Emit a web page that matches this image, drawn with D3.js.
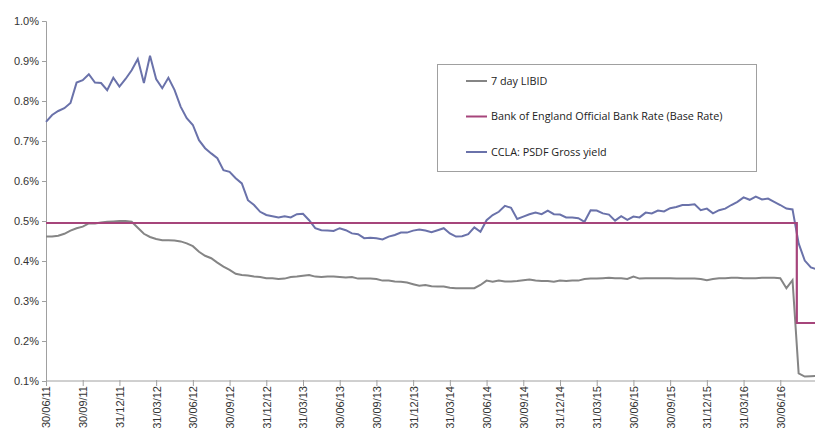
<!DOCTYPE html>
<html>
<head>
<meta charset="utf-8">
<script src="https://cdn.jsdelivr.net/npm/d3@7"></script>
<style>
  body { margin: 0; background: #fff; }
  .tick text { font-family: "Liberation Sans", Arial, sans-serif; font-size: 11px; fill: #333; }
  .legend text { font-family: "Open Sans", "Liberation Sans", sans-serif; font-size: 10.8px; fill: #222; }
</style>
</head>
<body>
<div id="chart"></div>
<script>
var width = 815, height = 428;

// half-monthly readings, starting 30/06/11 (index i = i/2 months later)
var psdf = [0.748,0.765,0.775,0.782,0.795,0.846,0.852,0.867,0.846,0.845,
  0.827,0.858,0.836,0.855,0.877,0.905,0.845,0.913,0.855,0.832,
  0.858,0.828,0.786,0.757,0.740,0.702,0.682,0.669,0.657,0.627,
  0.623,0.607,0.594,0.552,0.540,0.523,0.515,0.512,0.509,0.512,
  0.509,0.517,0.518,0.502,0.482,0.477,0.476,0.475,0.482,0.477,
  0.469,0.467,0.457,0.458,0.457,0.454,0.461,0.465,0.471,0.471,
  0.476,0.479,0.476,0.472,0.477,0.482,0.469,0.461,0.462,0.467,
  0.484,0.473,0.502,0.515,0.523,0.538,0.533,0.505,0.511,0.517,
  0.521,0.517,0.526,0.517,0.516,0.509,0.509,0.507,0.498,0.527,
  0.526,0.519,0.516,0.501,0.512,0.503,0.511,0.509,0.521,0.519,
  0.526,0.524,0.532,0.535,0.540,0.540,0.542,0.527,0.531,0.519,
  0.527,0.531,0.540,0.548,0.559,0.553,0.561,0.554,0.556,0.548,
  0.540,0.531,0.529,0.444,0.401,0.384,0.379];

var libid = [0.461,0.461,0.463,0.468,0.476,0.482,0.486,0.494,0.494,0.496,
  0.498,0.499,0.500,0.500,0.498,0.483,0.468,0.460,0.455,0.452,
  0.452,0.451,0.449,0.444,0.437,0.423,0.413,0.407,0.396,0.386,
  0.378,0.368,0.365,0.364,0.361,0.360,0.357,0.357,0.355,0.356,
  0.360,0.361,0.363,0.365,0.361,0.360,0.361,0.361,0.360,0.359,
  0.360,0.356,0.356,0.356,0.355,0.351,0.351,0.349,0.348,0.346,
  0.342,0.338,0.340,0.337,0.336,0.336,0.333,0.332,0.332,0.332,
  0.332,0.340,0.351,0.348,0.351,0.349,0.349,0.350,0.352,0.354,
  0.351,0.350,0.350,0.348,0.351,0.350,0.351,0.351,0.355,0.356,
  0.356,0.357,0.358,0.357,0.357,0.355,0.361,0.356,0.357,0.357,
  0.357,0.357,0.357,0.356,0.356,0.356,0.356,0.355,0.352,0.355,
  0.357,0.357,0.358,0.358,0.357,0.357,0.357,0.358,0.358,0.358,
  0.357,0.332,0.352,0.119,0.111,0.112,0.113];

// base rate: [months after 30/06/11, rate]
var baseRate = [[0, 0.495], [61.35, 0.245], [63, 0.245]];

var yTicks = [0.1, 0.2, 0.3, 0.4, 0.5, 0.6, 0.7, 0.8, 0.9, 1.0];
var xTickMonths = [0, 3, 6, 9, 12, 15, 18, 21, 24, 27, 30, 33, 36, 39, 42, 45, 48, 51, 54, 57, 60];
var xTickLabels = ["30/06/11","30/09/11","31/12/11","31/03/12","30/06/12","30/09/12","31/12/12",
  "31/03/13","30/06/13","30/09/13","31/12/13","31/03/14","30/06/14","30/09/14","31/12/14",
  "31/03/15","30/06/15","30/09/15","31/12/15","31/03/16","30/06/16"];

var seriesNames = ["7 day LIBID", "Bank of England Official Bank Rate (Base Rate)", "CCLA: PSDF Gross yield"];
var seriesColors = ["#858585", "#a6457b", "#6a72aa"];

var xScale = d3.scaleLinear().domain([0, 63]).range([46, 817]);
var yScale = d3.scaleLinear().domain([0.1, 1.0]).range([381, 21]);

var svg = d3.select("#chart").append("svg")
    .attr("width", width)
    .attr("height", height)
    .style("background", "#fff");

// y axis
var yAxis = svg.append("g")
    .attr("transform", "translate(46,0)")
    .call(d3.axisLeft(yScale).tickValues(yTicks).tickSize(4).tickPadding(3)
      .tickFormat(function(d) { return d.toFixed(1) + "%"; }));
yAxis.select(".domain").attr("stroke", "#a0a0a0");
yAxis.selectAll(".tick line").attr("stroke", "#a0a0a0");

// x axis
var xAxis = svg.append("g")
    .attr("transform", "translate(0,381)")
    .call(d3.axisBottom(xScale).tickValues(xTickMonths).tickSize(5)
      .tickFormat(function(d, i) { return xTickLabels[i]; }));
xAxis.select(".domain").attr("stroke", "#a0a0a0").attr("d", "M46,0H815");
xAxis.selectAll(".tick line").attr("stroke", "#a0a0a0").attr("y1", -1);
xAxis.selectAll(".tick text")
    .attr("transform", "rotate(-90)")
    .attr("text-anchor", "end")
    .attr("x", -5)
    .attr("y", 0)
    .attr("dy", "0.35em");

var line = d3.line()
    .x(function(d, i) { return xScale(i / 2); })
    .y(function(d) { return yScale(d); });

var stepLine = d3.line()
    .x(function(d) { return xScale(d[0]); })
    .y(function(d) { return yScale(d[1]); })
    .curve(d3.curveStepAfter);

svg.append("path")
    .datum(libid)
    .attr("fill", "none")
    .attr("stroke", seriesColors[0])
    .attr("stroke-width", 2)
    .attr("d", line);

svg.append("path")
    .datum(psdf)
    .attr("fill", "none")
    .attr("stroke", seriesColors[2])
    .attr("stroke-width", 2)
    .attr("d", line);

svg.append("path")
    .datum(baseRate)
    .attr("fill", "none")
    .attr("stroke", seriesColors[1])
    .attr("stroke-width", 2.2)
    .attr("d", stepLine);

// legend
var legend = svg.append("g").attr("class", "legend");
legend.append("rect")
    .attr("x", 437.5).attr("y", 64.5)
    .attr("width", 319).attr("height", 107)
    .attr("fill", "#fff")
    .attr("stroke", "#a0a0a0");

var items = legend.selectAll(".item")
    .data(seriesNames)
    .enter().append("g")
    .attr("class", "item")
    .attr("transform", function(d, i) { return "translate(466," + (81 + i * 35.5) + ")"; });

items.append("line")
    .attr("x1", 0).attr("x2", 21)
    .attr("stroke", function(d, i) { return seriesColors[i]; })
    .attr("stroke-width", 2);

items.append("text")
    .attr("x", 25)
    .attr("dy", "0.35em")
    .text(function(d) { return d; });
</script>
</body>
</html>
